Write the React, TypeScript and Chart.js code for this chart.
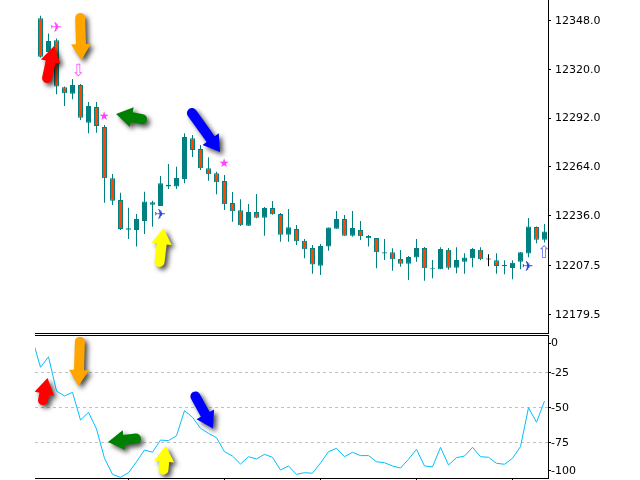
import React, { useEffect, useRef } from "react";
import { Chart, registerables } from "chart.js";

Chart.register(...registerables);

// ---------- data ----------
const candleIndex = Array.from({ length: 64 }, (_, i) => i);

const opens = [
  12349.1, 12329.8, 12336.5, 12309.6, 12305.9, 12310.9, 12289.3, 12298.3, 12286.9, 12257.5,
  12245.0, 12228.0, 12227.8, 12233.0, 12242.3, 12241.6, 12252.7, 12252.7, 12257.1, 12280.4,
  12274.3, 12263.2, 12260.3, 12255.9, 12243.3, 12239.1, 12230.3, 12238.2, 12234.9, 12240.4,
  12237.0, 12225.1, 12228.4, 12221.7, 12217.5, 12207.4, 12218.3, 12228.6, 12234.1, 12224.6,
  12227.8, 12224.4, 12223.3, 12214.3, 12215.1, 12211.2, 12208.5, 12212.0, 12217.5, 12205.3,
  12205.3, 12216.5, 12206.2, 12209.7, 12211.6, 12216.5, 12211.2, 12210.5, 12207.0, 12206.1,
  12209.7, 12214.3, 12229.6, 12222.3,
];
const highs = [
  12350.6, 12340.5, 12337.6, 12310.1, 12314.4, 12311.5, 12301.2, 12301.2, 12288.0, 12259.9,
  12249.2, 12240.6, 12237.0, 12249.8, 12244.6, 12258.8, 12265.7, 12264.1, 12283.2, 12282.3,
  12276.5, 12269.5, 12261.2, 12259.4, 12249.6, 12245.4, 12242.7, 12248.5, 12241.0, 12244.5,
  12237.6, 12239.9, 12230.7, 12222.7, 12219.2, 12219.8, 12229.2, 12238.7, 12236.4, 12238.7,
  12233.0, 12225.0, 12223.3, 12222.7, 12217.4, 12216.4, 12212.9, 12222.7, 12218.1, 12210.6,
  12217.9, 12217.5, 12217.9, 12214.5, 12217.5, 12217.9, 12213.9, 12214.5, 12210.5, 12210.5,
  12215.2, 12234.7, 12229.8, 12231.3,
];
const lows = [
  12326.7, 12327.5, 12305.6, 12298.9, 12302.7, 12290.9, 12283.2, 12283.6, 12243.5, 12242.2,
  12227.8, 12222.7, 12218.3, 12225.5, 12229.7, 12241.6, 12251.3, 12251.3, 12254.6, 12269.7,
  12262.2, 12256.1, 12248.3, 12239.3, 12232.6, 12230.1, 12230.1, 12234.5, 12224.6, 12236.6,
  12221.1, 12221.1, 12219.2, 12211.6, 12202.8, 12202.1, 12216.0, 12228.6, 12224.6, 12224.0,
  12222.1, 12218.3, 12205.9, 12210.6, 12204.5, 12206.8, 12199.2, 12209.7, 12198.8, 12200.2,
  12205.3, 12205.1, 12203.0, 12202.8, 12206.5, 12210.5, 12207.0, 12202.8, 12202.4, 12199.6,
  12205.3, 12212.2, 12220.2, 12220.6,
];
const closes = [
  12327.1, 12336.1, 12310.1, 12306.2, 12310.9, 12292.2, 12298.9, 12287.4, 12257.5, 12244.6,
  12228.4, 12228.8, 12234.1, 12244.1, 12243.7, 12254.6, 12253.8, 12257.6, 12281.1, 12273.7,
  12263.2, 12259.8, 12255.2, 12242.6, 12238.6, 12230.5, 12238.2, 12234.9, 12240.4, 12236.8,
  12225.1, 12229.4, 12221.4, 12216.8, 12208.0, 12218.7, 12229.2, 12234.1, 12224.6, 12228.9,
  12224.2, 12223.1, 12215.1, 12215.1, 12211.0, 12208.5, 12212.4, 12217.5, 12205.9, 12205.9,
  12216.9, 12206.2, 12210.6, 12212.0, 12216.9, 12211.0, 12211.2, 12207.2, 12207.8, 12209.1,
  12215.1, 12229.9, 12222.3, 12226.9,
];

const priceTicks = [12348.0, 12320.0, 12292.0, 12264.0, 12236.0, 12207.5, 12179.5];
const priceTickLabels = ["12348.0", "12320.0", "12292.0", "12264.0", "12236.0", "12207.5", "12179.5"];

const wprIndex = Array.from({ length: 65 }, (_, k) => k - 1);
const wprValues = [
  -1.7, -21.4, -13.9, -38.4, -41.9, -39.3, -59.1, -53.6, -65.5, -86.4,
  -97.9, -100, -96.7, -88.9, -80.5, -82.1, -73.4, -73.8, -70.3, -52.4,
  -57.1, -65, -68.6, -71.7, -81.7, -84.8, -90.5, -85.3, -86.9, -83.6,
  -85.7, -94.8, -91.9, -97.9, -96.7, -97.1, -89.8, -81.7, -79.3, -85.3,
  -82.1, -84.5, -84.5, -88.9, -89.6, -91.9, -93.4, -87.1, -80, -91.9,
  -92.6, -78.6, -91.2, -86, -84.8, -78.6, -85.3, -85.7, -90, -90.7,
  -86.4, -78.1, -50.3, -60.7, -45.5,
];
const wprTicks = [0, -25, -50, -75, -100];
const wprTickLabels = ["0", "-25", "-50", "-75", "-100"];
const wprLevels = [-25, -50, -75];
const timeTickIndex = [11, 23, 35, 47, 59];

// chart objects (wingdings-like markers) anchored at (bar index, price)
const symbolGlyphs = ["\u2708", "\u21E9", "\u2605", "\u2605", "\u2708", "\u2708", "\u21E7"];
const symbolIndex = [1.94, 4.72, 7.94, 22.94, 14.94, 60.9, 62.94];
const symbolPrice = [12343.3, 12318.5, 12292.6, 12265.7, 12236.4, 12206.5, 12214.1];
const symbolColors = ["#FF40FF", "#FF60FF", "#FF40FF", "#FF40FF", "#2848E0", "#2848E0", "#7070F0"];

// big arrow pictures: tail -> tip, in (bar index, value)
const arrowColors = ["#FF0000", "#FFA500", "#008000", "#0000FF", "#FFFF00"];
const topArrowTailIdx = [0.69, 4.94, 13.31, 18.56, 14.81];
const topArrowTailVal = [12312.1, 12352.2, 12290.8, 12297.2, 12206.7];
const topArrowTipIdx = [1.69, 5.12, 9.44, 22.44, 15.38];
const topArrowTipVal = [12333.3, 12325.2, 12294.3, 12272.5, 12229.0];
const botArrowTailIdx = [0.19, 4.94, 12.56, 19.06, 15.31];
const botArrowTailVal = [-48.4, 0.4, -71.9, -39.1, -98.1];
const botArrowTipIdx = [0.88, 4.75, 8.44, 21.56, 15.65];
const botArrowTipVal = [-29.1, -34.8, -74.8, -65.1, -77.4];

// ---------- styles ----------
const X_MIN = -0.6875;
const X_MAX = 63.4375;
const P_MIN = 12168.8;
const P_MAX = 12359.63;
const W_MIN = -100.5;
const W_MAX = 1.643;
const TEAL = "#008080";
const ORANGE = "#FF4500";
const AXIS_FONT = '11px "DejaVu Sans"';

function drawArrow(ctx: CanvasRenderingContext2D, tx: number, ty: number, px: number, py: number, color: string) {
  const dx = px - tx;
  const dy = py - ty;
  const len = Math.hypot(dx, dy);
  const ux = dx / len;
  const uy = dy / len;
  const nx = -uy;
  const ny = ux;
  const sw = 10;
  const hw = 20;
  const hl = 16;
  const r = sw / 2;
  const cx = tx + ux * r;
  const cy = ty + uy * r;
  const hx = px - ux * hl;
  const hy = py - uy * hl;
  const th = Math.atan2(uy, ux);
  ctx.save();
  ctx.shadowColor = "rgba(0,0,0,0.7)";
  ctx.shadowBlur = 5;
  ctx.shadowOffsetX = 3;
  ctx.shadowOffsetY = 3;
  ctx.fillStyle = color;
  ctx.beginPath();
  ctx.moveTo(hx + nx * r, hy + ny * r);
  ctx.lineTo(hx + (nx * hw) / 2, hy + (ny * hw) / 2);
  ctx.lineTo(px, py);
  ctx.lineTo(hx - (nx * hw) / 2, hy - (ny * hw) / 2);
  ctx.lineTo(hx - nx * r, hy - ny * r);
  ctx.lineTo(cx - nx * r, cy - ny * r);
  ctx.arc(cx, cy, r, th - Math.PI / 2, th + Math.PI / 2, true);
  ctx.closePath();
  ctx.fill();
  ctx.restore();
}

const topPlugin = {
  id: "topDecor",
  afterDatasetsDraw(chart: any) {
    const { ctx, chartArea } = chart;
    const x = chart.scales.x;
    const y = chart.scales.y;
    ctx.save();
    ctx.beginPath();
    ctx.rect(chartArea.left, chartArea.top, chartArea.right - chartArea.left, chartArea.bottom - chartArea.top);
    ctx.clip();
    ctx.textAlign = "center";
    ctx.textBaseline = "middle";
    symbolGlyphs.forEach((g, k) => {
      const size = g === "\u2605" ? 12 : g === "\u2708" ? 14 : 17;
      ctx.font = `${size}px "DejaVu Sans"`;
      ctx.fillStyle = symbolColors[k];
      ctx.fillText(g, x.getPixelForValue(symbolIndex[k]), y.getPixelForValue(symbolPrice[k]));
    });
    arrowColors.forEach((c, k) => {
      drawArrow(
        ctx,
        x.getPixelForValue(topArrowTailIdx[k]),
        y.getPixelForValue(topArrowTailVal[k]),
        x.getPixelForValue(topArrowTipIdx[k]),
        y.getPixelForValue(topArrowTipVal[k]),
        c
      );
    });
    ctx.restore();

    ctx.save();
    ctx.fillStyle = "#000";
    const r = Math.round(chartArea.right);
    const b = Math.round(chartArea.bottom);
    ctx.fillRect(r, 0, 1, b + 1);
    ctx.fillRect(chartArea.left, b, r - chartArea.left + 1, 1);
    ctx.font = AXIS_FONT;
    ctx.textAlign = "left";
    ctx.textBaseline = "middle";
    priceTicks.forEach((t, k) => {
      const py = y.getPixelForValue(t);
      ctx.fillRect(r + 1, Math.floor(py), 2, 1);
      ctx.fillText(priceTickLabels[k], r + 7, py + 0.5);
    });
    ctx.restore();
  },
};

const botPlugin = {
  id: "botDecor",
  beforeDatasetsDraw(chart: any) {
    const { ctx, chartArea } = chart;
    const y = chart.scales.y;
    ctx.save();
    ctx.strokeStyle = "#C0C0C0";
    ctx.lineWidth = 1;
    ctx.setLineDash([3, 3]);
    wprLevels.forEach((lv) => {
      const py = Math.floor(y.getPixelForValue(lv)) + 0.5;
      ctx.beginPath();
      ctx.moveTo(chartArea.left, py);
      ctx.lineTo(chartArea.right, py);
      ctx.stroke();
    });
    ctx.restore();
  },
  afterDatasetsDraw(chart: any) {
    const { ctx, chartArea } = chart;
    const x = chart.scales.x;
    const y = chart.scales.y;
    ctx.save();
    ctx.beginPath();
    ctx.rect(chartArea.left, chartArea.top, chartArea.right - chartArea.left, chartArea.bottom - chartArea.top);
    ctx.clip();
    arrowColors.forEach((c, k) => {
      drawArrow(
        ctx,
        x.getPixelForValue(botArrowTailIdx[k]),
        y.getPixelForValue(botArrowTailVal[k]),
        x.getPixelForValue(botArrowTipIdx[k]),
        y.getPixelForValue(botArrowTipVal[k]),
        c
      );
    });
    ctx.restore();

    ctx.save();
    ctx.fillStyle = "#000";
    const r = Math.round(chartArea.right);
    const t = Math.round(chartArea.top);
    const b = Math.round(chartArea.bottom);
    ctx.fillRect(chartArea.left, t, r - chartArea.left + 1, 1);
    ctx.fillRect(chartArea.left, b, r - chartArea.left + 1, 1);
    ctx.fillRect(r, t, 1, b - t + 1);
    timeTickIndex.forEach((i) => {
      ctx.fillRect(Math.floor(x.getPixelForValue(i)), b + 1, 1, 3);
    });
    ctx.font = AXIS_FONT;
    ctx.textAlign = "left";
    ctx.textBaseline = "middle";
    wprTicks.forEach((tv, k) => {
      const py = y.getPixelForValue(tv);
      const ly = Math.min(Math.max(py, chartArea.top + 8), chartArea.bottom - 7.5);
      ctx.fillRect(r + 1, Math.floor(ly), 2, 1);
      ctx.fillText(wprTickLabels[k], r + 3, ly + 0.5);
    });
    ctx.restore();
  },
};

export default function App() {
  const topRef = useRef<HTMLCanvasElement>(null);
  const botRef = useRef<HTMLCanvasElement>(null);

  useEffect(() => {
    const bodyData = candleIndex.map((i) => {
      let lo = Math.min(opens[i], closes[i]);
      let hi = Math.max(opens[i], closes[i]);
      if (hi - lo < 0.6) {
        const m = (hi + lo) / 2;
        lo = m - 0.3;
        hi = m + 0.3;
      }
      return { x: i, y: [lo, hi] };
    });
    const wickData = candleIndex.map((i) => ({ x: i, y: [lows[i], highs[i]] }));
    const fillColors = candleIndex.map((i) =>
      closes[i] > opens[i] ? TEAL : closes[i] < opens[i] ? ORANGE : "#000"
    );
    const edgeColors = candleIndex.map((i) => (closes[i] === opens[i] ? "#000" : TEAL));

    const top = new Chart(topRef.current as HTMLCanvasElement, {
      type: "bar",
      data: {
        datasets: [
          {
            label: "body",
            data: bodyData as any,
            backgroundColor: fillColors,
            borderColor: edgeColors,
            borderWidth: 1,
            borderSkipped: false,
            barThickness: 5,
            grouped: false,
            order: 0,
            inflateAmount: 0,
          } as any,
          {
            label: "wick",
            data: wickData as any,
            backgroundColor: edgeColors,
            borderWidth: 0,
            barThickness: 1,
            grouped: false,
            order: 1,
            inflateAmount: 0,
          } as any,
        ],
      },
      options: {
        animation: false,
        responsive: false,
        devicePixelRatio: 1,
        events: [],
        layout: { padding: { left: 35, right: 92, top: 0, bottom: 1 } },
        plugins: { legend: { display: false }, tooltip: { enabled: false } },
        scales: {
          x: { type: "linear", display: false, min: X_MIN, max: X_MAX, offset: false },
          y: { type: "linear", display: false, min: P_MIN, max: P_MAX },
        },
      } as any,
      plugins: [topPlugin],
    });

    const bot = new Chart(botRef.current as HTMLCanvasElement, {
      type: "line",
      data: {
        datasets: [
          {
            label: "WPR",
            data: wprIndex.map((i, k) => ({ x: i, y: wprValues[k] })),
            borderColor: "#00BFFF",
            borderWidth: 1,
            pointRadius: 0,
            tension: 0,
            fill: false,
          },
        ],
      },
      options: {
        animation: false,
        responsive: false,
        devicePixelRatio: 1,
        events: [],
        layout: { padding: { left: 35, right: 92, top: 1, bottom: 2 } },
        plugins: { legend: { display: false }, tooltip: { enabled: false } },
        scales: {
          x: { type: "linear", display: false, min: X_MIN, max: X_MAX, offset: false },
          y: { type: "linear", display: false, min: W_MIN, max: W_MAX },
        },
      } as any,
      plugins: [botPlugin],
    });

    return () => {
      top.destroy();
      bot.destroy();
    };
  }, []);

  return (
    <div
      style={{
        position: "fixed",
        left: 0,
        top: 0,
        width: 640,
        height: 480,
        background: "#fff",
        overflow: "hidden",
      }}
    >
      <canvas
        ref={topRef}
        width={640}
        height={334}
        style={{ position: "absolute", left: 0, top: 0, width: 640, height: 334 }}
      />
      <canvas
        ref={botRef}
        width={640}
        height={146}
        style={{ position: "absolute", left: 0, top: 334, width: 640, height: 146 }}
      />
    </div>
  );
}
